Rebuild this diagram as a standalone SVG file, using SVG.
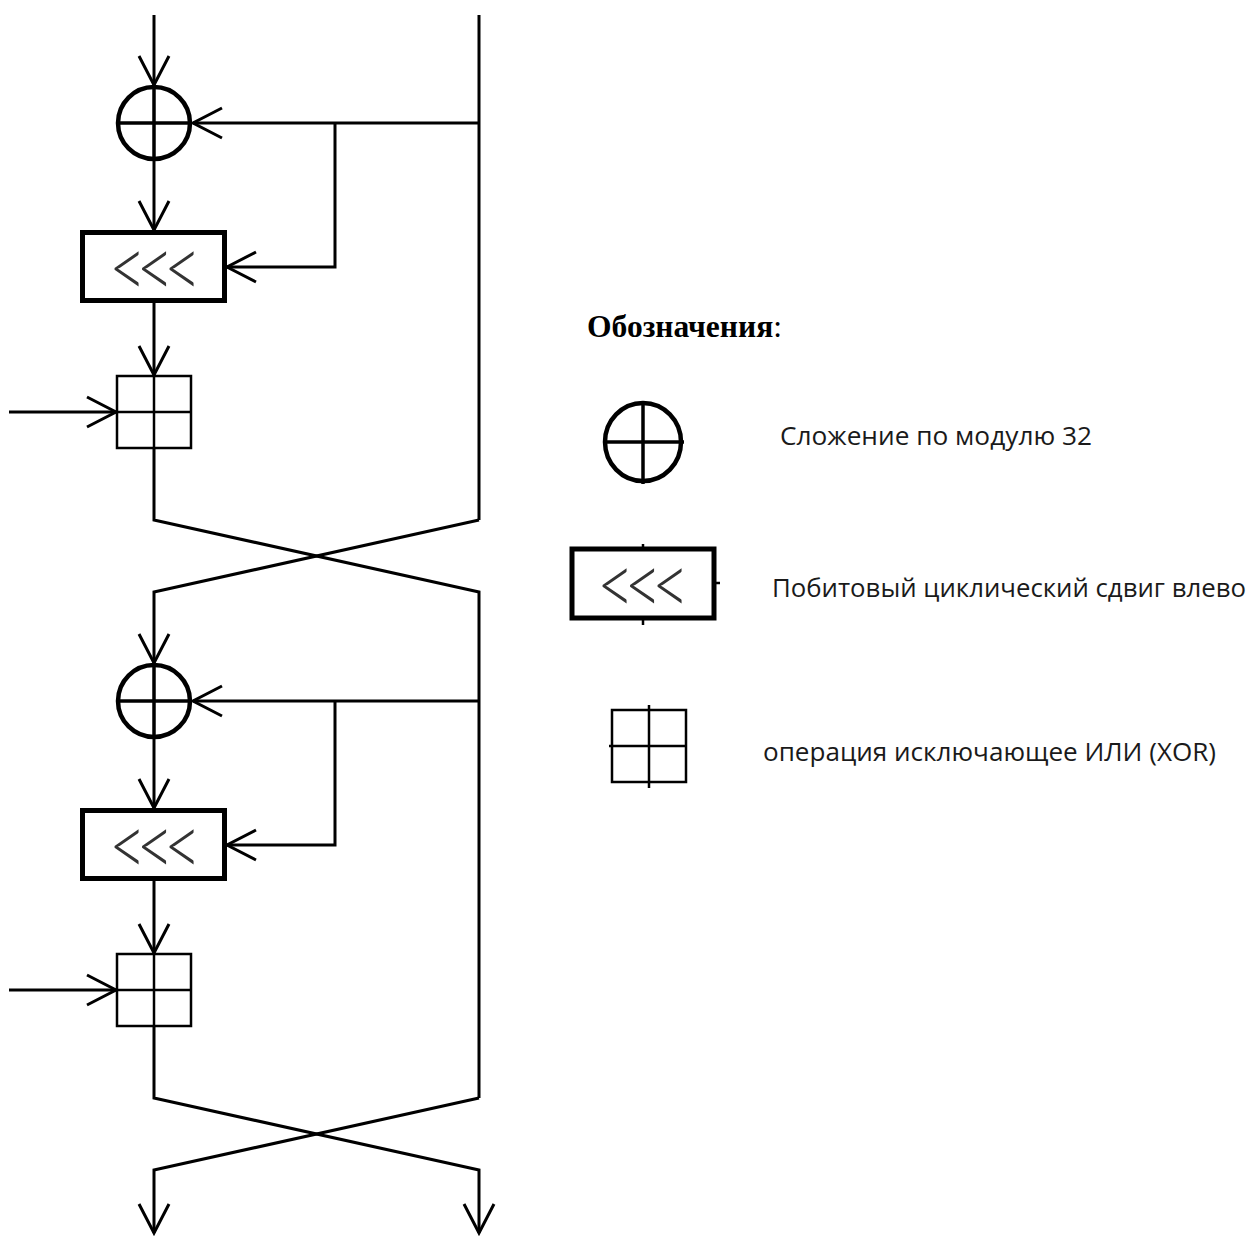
<svg xmlns="http://www.w3.org/2000/svg" width="1248" height="1236" viewBox="0 0 1248 1236">
<style>
.ln{fill:none;stroke:#000;stroke-width:3;stroke-linejoin:miter}
.arr{marker-end:url(#ah)}
.circ{fill:#fff;stroke:#000;stroke-width:4.5}
.cross{stroke:#000;stroke-width:3.5}
.rot{fill:#fff;stroke:#000;stroke-width:5}
.xor{fill:#fff;stroke:#000;stroke-width:2.5}
.xl{stroke:#000;stroke-width:2.5}
.shift{font-family:Lato,'Open Sans','Liberation Sans',sans-serif;font-weight:300;font-size:64px;fill:#333;text-anchor:middle}
.lab{font-family:'Open Sans','Liberation Sans',sans-serif;font-size:25px;fill:#1a1a1a}
.title{font-family:'Liberation Serif','Times New Roman',serif;font-weight:bold;font-size:31px;fill:#000}
</style>
<defs>
<marker id="ah" markerUnits="userSpaceOnUse" viewBox="-32 -18 36 36" markerWidth="36" markerHeight="36" refX="0" refY="0" orient="auto" overflow="visible">
<path d="M-29,-15 L0,0 L-29,15" fill="none" stroke="#000" stroke-width="3"/>
</marker>
</defs>

<g id="connectors">
<line class="ln arr" x1="154" y1="15" x2="154" y2="85"/>
<line class="ln arr" x1="154" y1="161" x2="154" y2="230"/>
<line class="ln arr" x1="154" y1="303" x2="154" y2="375"/>
<line class="ln arr" x1="9" y1="412" x2="116" y2="412"/>
<line class="ln" x1="479" y1="15" x2="479" y2="520"/>
<line class="ln arr" x1="479" y1="123" x2="193" y2="123"/>
<polyline class="ln arr" points="335,123 335,267 227,267"/>
<polyline class="ln" points="154,376 154,520 479,592 479,701"/>
<polyline class="ln arr" points="479,520 154,592 154,663"/>
<line class="ln arr" x1="154" y1="739" x2="154" y2="808"/>
<line class="ln arr" x1="154" y1="881" x2="154" y2="953"/>
<line class="ln arr" x1="9" y1="990" x2="116" y2="990"/>
<line class="ln" x1="479" y1="701" x2="479" y2="1098"/>
<line class="ln arr" x1="479" y1="701" x2="193" y2="701"/>
<polyline class="ln arr" points="335,701 335,845 227,845"/>
<polyline class="ln arr" points="154,954 154,1098 479,1170 479,1233"/>
<polyline class="ln arr" points="479,1098 154,1170 154,1233"/>
</g>

<g id="add1">
<circle class="circ" cx="154" cy="123" r="36"/>
<line class="cross" x1="118" y1="123" x2="190" y2="123"/>
<line class="cross" x1="154" y1="87" x2="154" y2="159"/>
</g>
<g id="rot1">
<rect class="rot" x="82.5" y="232.5" width="142" height="68"/>
<text class="shift" transform="translate(155,267) scale(1,1.35)" x="0" y="23" textLength="92" lengthAdjust="spacing">&lt;&lt;&lt;</text>
</g>
<g id="xor1">
<rect class="xor" x="117" y="376" width="74" height="72"/>
<line class="xl" x1="117" y1="412" x2="191" y2="412"/>
<line class="xl" x1="154" y1="376" x2="154" y2="448"/>
</g>

<g id="add2">
<circle class="circ" cx="154" cy="701" r="36"/>
<line class="cross" x1="118" y1="701" x2="190" y2="701"/>
<line class="cross" x1="154" y1="665" x2="154" y2="737"/>
</g>
<g id="rot2">
<rect class="rot" x="82.5" y="810.5" width="142" height="68"/>
<text class="shift" transform="translate(155,845) scale(1,1.35)" x="0" y="23" textLength="92" lengthAdjust="spacing">&lt;&lt;&lt;</text>
</g>
<g id="xor2">
<rect class="xor" x="117" y="954" width="74" height="72"/>
<line class="xl" x1="117" y1="990" x2="191" y2="990"/>
<line class="xl" x1="154" y1="954" x2="154" y2="1026"/>
</g>

<g id="legend">
<text class="title" x="587" y="337" textLength="195" lengthAdjust="spacingAndGlyphs">Обозначения<tspan font-weight="normal">:</tspan></text>
<g id="leg-add">
<ellipse class="circ" cx="643" cy="442" rx="38" ry="39" stroke-width="4"/>
<line class="cross" x1="605" y1="442" x2="684" y2="442" stroke-width="3"/>
<line class="cross" x1="643" y1="402" x2="643" y2="484" stroke-width="3"/>
</g>
<text class="lab" x="780" y="445" textLength="312" lengthAdjust="spacingAndGlyphs">Сложение по модулю 32</text>
<g id="leg-rot">
<rect class="rot" x="572" y="549" width="142" height="69" stroke-width="4.5"/>
<line class="xl" x1="643" y1="544" x2="643" y2="549"/>
<line class="xl" x1="643" y1="618" x2="643" y2="625"/>
<line class="xl" x1="714" y1="583" x2="720" y2="583"/>
<text class="shift" transform="translate(643,584) scale(1,1.35)" x="0" y="23" textLength="92" lengthAdjust="spacing">&lt;&lt;&lt;</text>
</g>
<text class="lab" x="772" y="597" textLength="474" lengthAdjust="spacingAndGlyphs">Побитовый циклический сдвиг влево</text>
<g id="leg-xor">
<rect class="xor" x="612" y="710" width="74" height="72"/>
<line class="xl" x1="649" y1="705" x2="649" y2="788"/>
<line class="xl" x1="609" y1="746" x2="686" y2="746"/>
</g>
<text class="lab" x="763" y="761" textLength="453" lengthAdjust="spacingAndGlyphs">операция исключающее ИЛИ (XOR)</text>
</g>
</svg>
